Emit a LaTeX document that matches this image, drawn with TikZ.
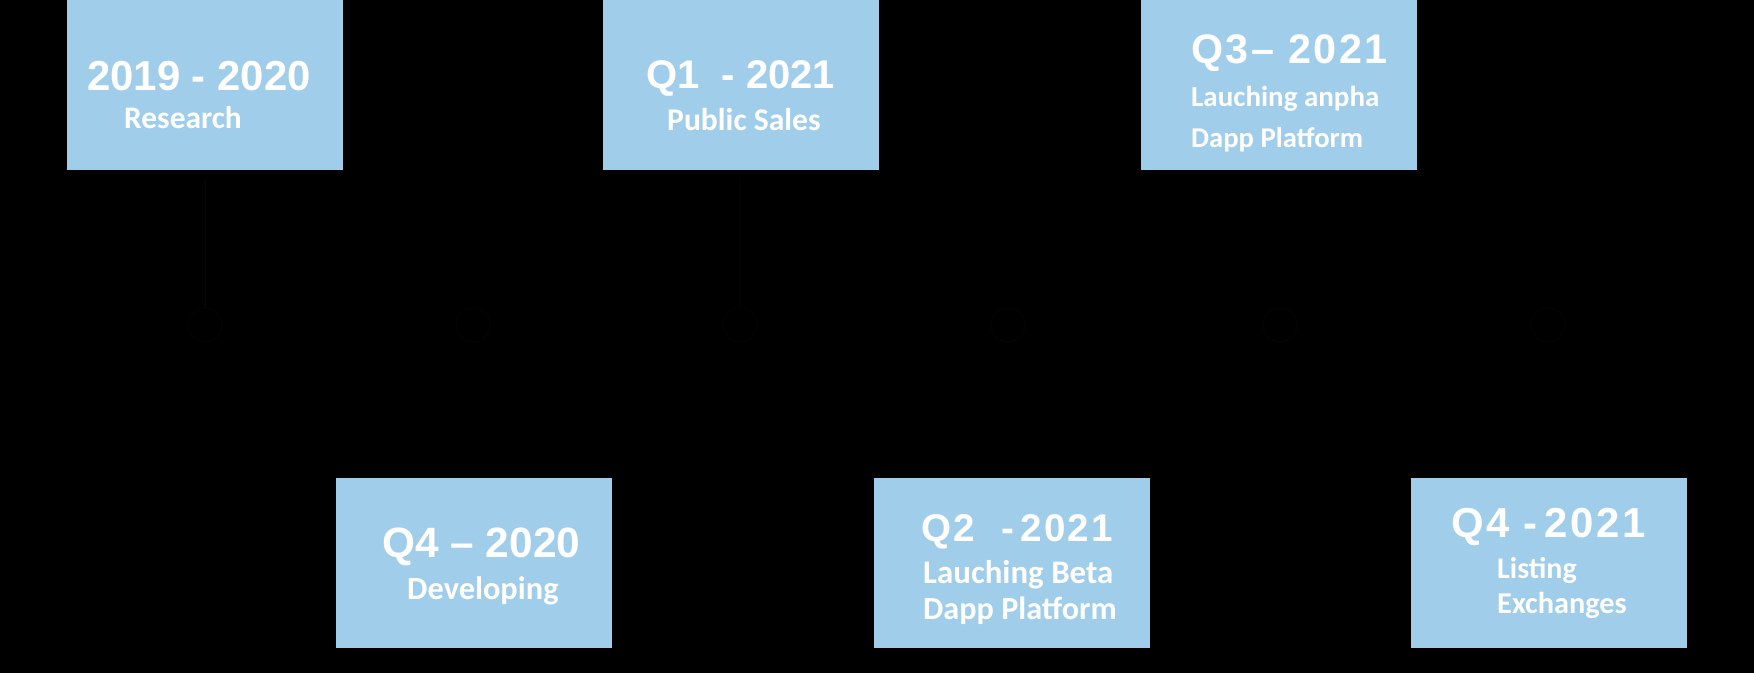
\documentclass[tikz,border=0pt]{standalone}
\usepackage{fontspec}
\setmainfont{Liberation Sans}
\newfontfamily\headfont{Liberation Sans}
\newfontfamily\headsp{Liberation Sans}[LetterSpace=6]
\newfontfamily\subfont{Carlito}
\definecolor{boxblue}{RGB}{160,205,234}
\definecolor{faint}{RGB}{6,6,6}
\definecolor{fainter}{RGB}{3,3,3}
\begin{document}
\begin{tikzpicture}[x=1pt,y=-1pt,
  box/.style={fill=boxblue, draw=none, minimum width=276pt, minimum height=170pt, inner sep=0pt, anchor=north west},
  head/.style={text=white, font=\headfont\bfseries\fontsize{#1}{#1}\selectfont, anchor=base west, inner sep=0pt},
  head/.default=40,
  headspaced/.style={text=white, font=\headsp\bfseries\fontsize{#1}{#1}\selectfont, anchor=base west, inner sep=0pt},
  headspaced/.default=39,
  sub/.style={text=white, font=\subfont\bfseries\fontsize{#1}{#1}\selectfont, anchor=base west, inner sep=0pt},
  sub/.default=29,
  faintline/.style={draw=faint, line width=1.5pt},
  dot/.style={circle, draw=fainter, line width=1.5pt, minimum size=34pt, inner sep=0pt}]
\fill[black] (0,0) rectangle (1754,673);
\useasboundingbox (0,0) rectangle (1754,673);

% faint timeline marks
\node[dot] (c1) at (205,325) {};
\node[dot] (c2) at (473,325) {};
\node[dot] (c3) at (740,325) {};
\node[dot] (c4) at (1008,325) {};
\node[dot] (c5) at (1280,325) {};
\node[dot] (c6) at (1548,325) {};

% boxes
\node[box] (b1) at (67,0) {};
\node[box] (b3) at (603,0) {};
\node[box] (b5) at (1141,0) {};
\node[box] (b2) at (336,478) {};
\node[box] (b4) at (874,478) {};
\node[box] (b6) at (1411,478) {};

\draw[faintline, shorten <=8pt] (b1.south) -- (c1.north);
\draw[faintline, draw=fainter, shorten <=8pt] (c3.north |- b3.south) -- (c3.north);

% texts
\node[head=41.9] (t1a) at (87,90) {2019 - 2020};
\node[sub=31.4]  (t1b) at (124,128) {Research};

\node[head=42.4] (t2a) at (382,557) {Q4 \textendash{} 2020};
\node[sub=32.4]  (t2b) at (407,599) {Developing};

\node[head=40] (t3a) at (646,88) {Q1\ \ - 2021};
\node[sub=31.6]  (t3b) at (667,130) {Public Sales};

\node[headspaced=38.6] (t4a) at (921,541) {Q2\ \ -\,2021};
\node[sub=32.9]  (t4b) at (923,583) {Lauching Beta};
\node[sub=32.2]  (t4c) at (923,619) {Dapp Platform};

\node[headspaced=41.3] (t5a) at (1191,63) {Q3\textendash{} 2021};
\node[sub=29]  (t5b) at (1191,106) {Lauching anpha};
\node[sub=28.6]  (t5c) at (1191,147) {Dapp Platform};

\node[headspaced=41.9] (t6a) at (1451,537) {Q4 -\,2021};
\node[sub=30]  (t6b) at (1497,578) {Listing};
\node[sub=30.3]  (t6c) at (1497,613) {Exchanges};
\end{tikzpicture}
\end{document}
